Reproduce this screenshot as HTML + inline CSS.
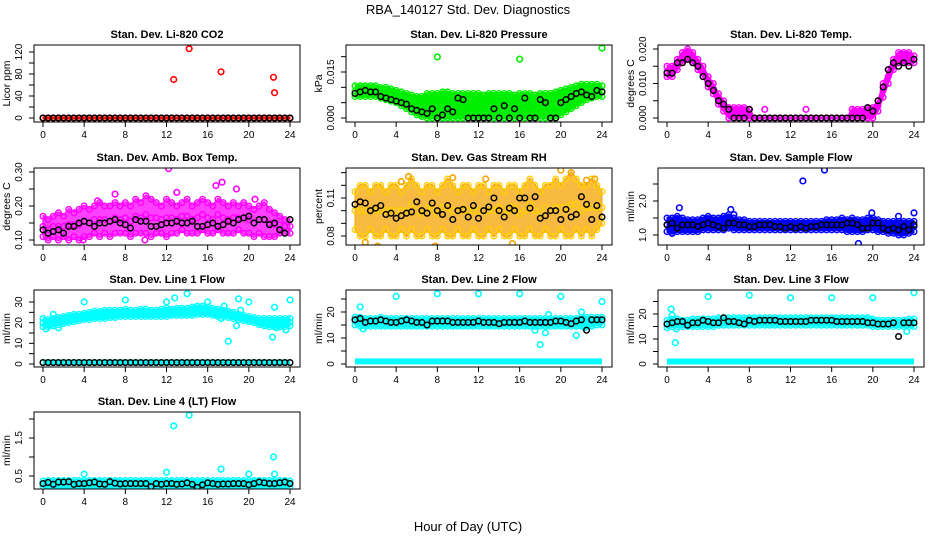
<!DOCTYPE html>
<html><head><meta charset="utf-8"><style>
body{margin:0;background:#fff}
svg{display:block;font-family:"Liberation Sans",Arial,sans-serif}
</style></head><body>
<svg id="c" width="936" height="540" viewBox="0 0 936 540" xmlns="http://www.w3.org/2000/svg">
<rect width="936" height="540" fill="#fff"/>
<text x="468" y="14" text-anchor="middle" font-size="13">RBA_140127  Std. Dev. Diagnostics</text>
<text x="468" y="531" text-anchor="middle" font-size="13">Hour of Day (UTC)</text>
</svg>
<script>
const xTicks=[0,4,8,12,16,20,24];
// CO2
const co2Lo=[0,0,0,0,0,0,0,0,0,0, 0,0,0,0,0,0,0,0,0,0, 0,0,0,0,0,0,0,0,0,0, 0,0,0,0,0,0,0,0,0,0, 0,0,0,0,0,0,0,0,0];
const co2Hi=[0,0,0,0,0,0,0,0,0,0, 0,0,0,0,0,0,0,0,0,0, 0,0,0,0,0,0,0,0,0,0, 0,0,0,0,0,0,0,0,0,0, 0,0,0,0,0,0,0,0,0];
const co2Black=[0,0,0,0,0,0,0,0,0,0, 0,0,0,0,0,0,0,0,0,0, 0,0,0,0,0,0,0,0,0,0, 0,0,0,0,0,0,0,0,0,0, 0,0,0,0,0,0,0,0,0];
const co2OutX=[12.7,14.2,17.3,22.4,22.5];
const co2OutY=[70,126,84,74,46];
// Pressure (x0.001 kPa)
const presHi=[10.5,10.5,10.5,10.5,10.5,10,10,9.5,9,8.5, 8,7.5,7,7,8,8,8,8.5,8.5,8, 8,8,8,8,8,7.5,8,8,8,8, 8,7.5,8,8,8,7.5,8,8,8,8.5, 9,9.5,10,10.5,11,11,11,11,10.5];
const presLo=[7,7,7,7,7,6.5,6,5.5,5,4, 3,2,1,0.5,0,0,0,0,0,0, 0,0,0,0,0,0,0,0,0,0, 0,0,0,0,0,0,0,0,0,0, 1,2,3,4,5,6,6.5,7,7];
const presBlack=[8,8.5,9,8.5,8.5,7,6.5,6,5.5,5, 4.5,3,2.5,2,1.5,3,0,1,3,2, 6.5,6,0,0,0,0,0,3,0,4, 0,3,0,6.5,0,0,6,5,0,0, 5,6,7,8,8.5,7.5,7,9,8.5];
const presOutX=[8,16,24];
const presOutY=[19.9,19.2,22.8];
// Temp
const tempHi=[.015,.015,.017,.019,.02,.019,.017,.015,.012,.010, .007,.005,.003,.003,.003,.003,.0025,0,0,0, 0,0,0,0,0,0,0,0,0,0, 0,0,0,0,0,0,.0025,.0025,.0025,.003, .003,.005,.010,.014,.017,.019,.019,.019,.018];
const tempLo=[.012,.012,.014,.016,.017,.016,.014,.012,.009,.007, .004,.002,0,0,0,0,0,0,0,0, 0,0,0,0,0,0,0,0,0,0, 0,0,0,0,0,0,0,0,0,0, 0,.002,.006,.010,.014,.016,.016,.016,.016];
const tempBlack=[.013,.013,.016,.016,.017,.016,.015,.012,.010,.008, .005,.004,.0025,0,0,0,.0025,0,0,0, 0,0,0,0,0,0,0,0,0,0, 0,0,0,0,0,0,0,0,0,.003, .002,.005,.009,.014,.016,.015,.016,.015,.017];
const tempOutX=[8,9.5,13.5,18];
const tempOutY=[.0025,.0025,.0025,.0025];
// Amb box temp
const ambHi=[.17,.16,.17,.18,.17,.19,.18,.19,.2,.19, .2,.21,.2,.2,.21,.2,.21,.2,.22,.21, .23,.22,.21,.2,.22,.21,.2,.21,.22,.2, .21,.22,.21,.2,.22,.21,.2,.21,.2,.21, .2,.19,.2,.21,.19,.18,.17,.16,.16];
const ambLo=[.11,.1,.11,.1,.11,.1,.11,.1,.11,.11, .12,.11,.12,.11,.12,.12,.12,.11,.12,.12, .12,.11,.12,.12,.11,.12,.12,.13,.12,.12, .12,.13,.12,.12,.13,.12,.12,.12,.13,.12, .12,.11,.12,.11,.11,.11,.12,.12,.12];
const ambBlack=[.13,.12,.125,.13,.12,.14,.14,.15,.155,.15, .14,.15,.15,.155,.16,.15,.145,.135,.16,.155, .155,.14,.14,.145,.15,.15,.155,.15,.15,.155, .14,.14,.145,.15,.14,.145,.155,.15,.16,.165, .17,.15,.16,.16,.145,.15,.13,.12,.16];
const ambOutX=[12.2,16.8,17.4,18.8,13,7,5.3,3.9,9.9,20.6];
const ambOutY=[.31,.26,.27,.25,.24,.235,.215,.1,.1,.22];
// Gas stream RH
const rhHi=[.115,.12,.12,.115,.12,.12,.115,.12,.12,.115, .12,.125,.12,.115,.12,.12,.115,.12,.125,.12, .115,.12,.12,.115,.12,.12,.115,.12,.12,.115, .12,.12,.115,.12,.125,.12,.115,.12,.12,.125, .12,.125,.13,.125,.12,.12,.125,.12,.115];
const rhLo=[.085,.08,.08,.085,.08,.08,.085,.08,.08,.085, .08,.085,.08,.08,.085,.08,.08,.085,.08,.08, .085,.08,.08,.085,.08,.08,.085,.08,.085,.08, .08,.085,.08,.08,.085,.08,.08,.085,.08,.08, .085,.08,.08,.085,.08,.085,.08,.085,.09];
const rhBlack=[.105,.107,.106,.1,.102,.104,.097,.098,.094,.096, .098,.099,.107,.1,.098,.106,.1,.097,.104,.093, .1,.101,.095,.104,.094,.1,.103,.11,.1,.095, .102,.1,.11,.11,.102,.111,.094,.096,.1,.1, .093,.101,.095,.097,.111,.105,.093,.104,.095];
const rhOutX=[1,2.2,4.5,5.2,7.8,9.5,12.7,15.3,20,21,22.5,23.3];
const rhOutY=[.075,.072,.123,.127,.072,.126,.125,.074,.132,.13,.124,.125];
// Sample flow
const sfHi=[1.5,1.5,1.55,1.5,1.45,1.45,1.45,1.5,1.55,1.5, 1.5,1.55,1.6,1.5,1.45,1.45,1.4,1.4,1.4,1.4, 1.4,1.4,1.4,1.4,1.4,1.4,1.4,1.4,1.4,1.4, 1.4,1.45,1.45,1.45,1.5,1.45,1.5,1.45,1.45,1.5, 1.5,1.45,1.4,1.4,1.4,1.4,1.4,1.4,1.4];
const sfLo=[1.1,1.05,1.1,1.1,1.1,1.1,1.1,1.15,1.15,1.15, 1.15,1.15,1.2,1.15,1.15,1.15,1.15,1.15,1.15,1.15, 1.15,1.15,1.15,1.15,1.15,1.15,1.15,1.15,1.15,1.15, 1.15,1.15,1.15,1.15,1.15,1.1,1.1,1.1,1.1,1.15, 1.15,1.1,1.1,1.05,1.05,1.0,1.0,1.05,1.1];
const sfBlack=[1.3,1.35,1.2,1.3,1.3,1.3,1.25,1.3,1.35,1.3, 1.25,1.2,1.35,1.35,1.3,1.3,1.25,1.25,1.3,1.3, 1.3,1.25,1.25,1.2,1.25,1.2,1.25,1.2,1.25,1.25, 1.3,1.3,1.3,1.3,1.3,1.35,1.35,1.3,1.2,1.2, 1.35,1.35,1.2,1.15,1.2,1.15,1.25,1.15,1.3];
const sfOutX=[1.2,6.2,6.5,13.2,15.3,18.6,19.9,22.5,24,0.5];
const sfOutY=[1.8,1.75,1.6,2.59,2.91,0.75,1.65,1.55,1.65,1.05];
// Line 1
const l1Hi=[22,21.5,22,22.5,23,23.5,24,24,24.5,25, 25.5,25.5,26,26,26,26,26.5,26,26,26.5, 26.5,26,26,26.5,27,26.5,27,27,27,27.5, 28,28,27.5,27,26.5,26,25.5,25,24,23.5, 23,22.5,22,22,22,22,22,22,22];
const l1Lo=[18,18,18.5,19,19.5,20,20.5,21,21.5,21.5, 22,22,22,22.5,22.5,23,23,23,23,23, 23,23,23,23,23,23.5,23.5,23.5,23.5,23.5, 24,24,24,23.5,23,23,22.5,22,21.5,21, 20.5,20,19,18.5,18,18,18,18,18.5];
const l1Black=[0.7,0.7,0.7,0.7,0.7,0.7,0.7,0.7,0.7,0.7, 0.7,0.7,0.7,0.7,0.7,0.7,0.7,0.7,0.7,0.7, 0.7,0.7,0.7,0.7,0.7,0.7,0.7,0.7,0.7,0.7, 0.7,0.7,0.7,0.7,0.7,0.7,0.7,0.7,0.7,0.7, 0.7,0.7,0.7,0.7,0.7,0.7,0.7,0.7,0.7];
const l1OutX=[0.3,1,1.5,4,8,12,12.8,14,16,17.3,17.6,18,18.8,19,19.2,20,22.3,22.5,22.7,23.6,24];
const l1OutY=[17,24,17.5,30,31,30,32,34,30,22,28,11,18.5,31.5,26,30,13,27.5,17.5,16.5,31];
// Line 2
const l2Hi=[18,18,17.5,17.5,17.5,18,17.5,17.5,17.5,17.5, 17.5,17.5,17.5,17.5,17.5,17.5,17.5,17.5,17.5,17.5, 17.5,17.5,17.5,17.5,17.5,17.5,17.5,17.5,17.5,17.5, 17.5,17.5,17.5,17.5,17.5,17.5,17.5,17.5,17.5,17.5, 17.5,17.5,17.5,17.5,18,18,18,18,18];
const l2Lo=[15,14.5,14.5,14.5,14.5,14.5,14.5,14.5,14.5,14.5, 14.5,14.5,14.5,14.5,14.5,14.5,14.5,14.5,14.5,14.5, 14.5,14.5,14.5,14.5,14.5,14.5,14.5,14.5,14.5,14.5, 14.5,14.5,14.5,14.5,14.5,14.5,14.5,14.5,14.5,14.5, 14.5,14.5,14.5,14.5,14.5,14.5,14.5,15,15];
const l2Base=[1,1,1,1,1,1,1,1,1,1, 1,1,1,1,1,1,1,1,1,1, 1,1,1,1,1,1,1,1,1,1, 1,1,1,1,1,1,1,1,1,1, 1,1,1,1,1,1,1,1,1];
const l2Black=[17,17.5,16,16.5,16.5,17,16.5,16,16,16.5, 17,16.5,16,16,15,16.5,16.5,16.5,16.5,16, 16,16,16,16,16.5,16,16,16,15.5,16, 16,16,16,16.5,16,16,16,16,16,16.5, 16.5,16,15.5,16.5,17,13,17,17,17];
const l2OutX=[0.5,0.8,4,8,12,16,17.5,18,18.5,18.8,20,21.5,22,22.3,24];
const l2OutY=[22,13.5,26,27,27,27,13,7.5,12,19,26,11,20,14,24];
// Line 3
const l3Hi=[17.5,18,18,17.5,17.5,18,18,18,18,18, 18.5,18.5,18.5,18.5,18.5,18.5,18.5,18.5,18.5,18.5, 18.5,18.5,18.5,18.5,18.5,18.5,18.5,18.5,18.5,18.5, 18.5,18.5,18.5,18.5,18.5,18.5,18.5,18.5,18.5,18.5, 18,17.5,17.5,17.5,17.5,17.5,17.5,18,18];
const l3Lo=[14.5,15,15,15,15,15,15,15,15,15, 15.5,15.5,15.5,15.5,15.5,15.5,15.5,15.5,15.5,15.5, 15.5,15.5,15.5,15.5,15.5,15.5,15.5,15.5,15.5,15.5, 15.5,15.5,15.5,15.5,15.5,15.5,15.5,15.5,15.5,15.5, 15,15,15,15,15,15,15,15,15];
const l3Base=[1,1,1,1,1,1,1,1,1,1, 1,1,1,1,1,1,1,1,1,1, 1,1,1,1,1,1,1,1,1,1, 1,1,1,1,1,1,1,1,1,1, 1,1,1,1,1,1,1,1,1];
const l3Black=[16,16.5,17,17,15.5,16.5,16.5,17.5,17,16.5, 16.5,18.5,17,17,16.5,16,17.5,17,17.5,17.5, 17.5,17.5,17,17,17,17,17,17,17.5,17.5, 17.5,17.5,17.5,17,17,17,17,17,17,16.5, 16.5,16,16,16,16.5,11,16.5,16.5,16.5];
const l3OutX=[0.4,0.5,0.8,0.9,4,8,12,16,20,23.3,24];
const l3OutY=[22,19.5,8.5,14,27,27.5,26.5,26.5,26.5,13,28.5];
// Line 4
const l4Hi=[0.37,0.38,0.38,0.38,0.38,0.38,0.38,0.38,0.38,0.38, 0.38,0.38,0.38,0.38,0.38,0.38,0.38,0.38,0.38,0.38, 0.38,0.38,0.38,0.38,0.38,0.38,0.38,0.38,0.38,0.38, 0.38,0.38,0.38,0.38,0.38,0.38,0.38,0.38,0.38,0.38, 0.38,0.38,0.38,0.38,0.38,0.38,0.38,0.38,0.37];
const l4Lo=[0.22,0.21,0.21,0.21,0.21,0.21,0.21,0.21,0.21,0.21, 0.21,0.21,0.21,0.21,0.21,0.21,0.21,0.21,0.21,0.21, 0.21,0.21,0.21,0.21,0.21,0.21,0.21,0.21,0.21,0.21, 0.21,0.21,0.21,0.21,0.21,0.21,0.21,0.21,0.21,0.21, 0.21,0.21,0.21,0.21,0.21,0.21,0.21,0.21,0.22];
const l4Black=[0.3,0.33,0.28,0.34,0.34,0.35,0.28,0.3,0.3,0.32, 0.34,0.29,0.28,0.35,0.31,0.29,0.3,0.3,0.3,0.3, 0.3,0.22,0.3,0.28,0.3,0.3,0.28,0.29,0.32,0.28, 0.2,0.27,0.32,0.3,0.28,0.29,0.29,0.3,0.3,0.3, 0.27,0.3,0.34,0.32,0.3,0.3,0.32,0.34,0.3];
const l4OutX=[4,12,12.7,14.2,17.3,20,22.4,22.5];
const l4OutY=[0.55,0.6,1.82,2.1,0.68,0.55,1.0,0.55];

const NS='http://www.w3.org/2000/svg';
const svg=document.getElementById('c');
const cols=[{bx0:34,bx1:300,x0:43,x24:290},{bx0:346,bx1:612,x0:355,x24:602},{bx0:658,bx1:924,x0:667,x24:914}];
const rows=[45,168,290,412];
function mk(tag,attrs,parent){const e=document.createElementNS(NS,tag);for(const k in attrs)e.setAttribute(k,attrs[k]);(parent||svg).appendChild(e);return e;}

const panels=[
 {slug:'co2',title:'Stan. Dev. Li-820 CO2',ylab:'Licor ppm',r:0,c:0,color:'#ff0000',v0:0,p0:118,v1:120,p1:52,ticks:[0,20,40,60,80,100,120],labels:[[0,'0'],[40,'40'],[80,'80'],[120,'120']],lo:co2Lo,hi:co2Hi,black:co2Black,ox:co2OutX,oy:co2OutY},
 {slug:'pressure',title:'Stan. Dev. Li-820 Pressure',ylab:'kPa',r:0,c:1,color:'#00ee00',v0:0,p0:118,v1:15,p1:72,ticks:[0,5,10,15,20],labels:[[0,'0.000'],[15,'0.015']],lo:presLo,hi:presHi,black:presBlack,ox:presOutX,oy:presOutY},
 {slug:'li820-temp',title:'Stan. Dev. Li-820 Temp.',ylab:'degrees C',r:0,c:2,color:'#ff00ff',v0:0,p0:118,v1:.02,p1:49,ticks:[0,.005,.01,.015,.02],labels:[[0,'0.000'],[.01,'0.010'],[.02,'0.020']],lo:tempLo,hi:tempHi,black:tempBlack,ox:tempOutX,oy:tempOutY},
 {slug:'amb-box-temp',title:'Stan. Dev. Amb. Box Temp.',ylab:'degrees C',r:1,c:0,color:'#ff00ff',v0:.1,p0:240,v1:.3,p1:172,ticks:[.1,.15,.2,.25,.3],labels:[[.1,'0.10'],[.2,'0.20'],[.3,'0.30']],lo:ambLo,hi:ambHi,black:ambBlack,ox:ambOutX,oy:ambOutY,speckle:true},
 {slug:'gas-stream-rh',title:'Stan. Dev. Gas Stream RH',ylab:'percent',r:1,c:1,color:'#f5a300',edge:'#ffd000',v0:.08,p0:236,v1:.11,p1:198,ticks:[.08,.09,.1,.11,.12,.13],labels:[[.08,'0.08'],[.11,'0.11']],lo:rhLo,hi:rhHi,black:rhBlack,ox:rhOutX,oy:rhOutY,speckle:true},
 {slug:'sample-flow',title:'Stan. Dev. Sample Flow',ylab:'ml/min',r:1,c:2,color:'#0000ff',v0:1,p0:235,v1:2,p1:201,ticks:[1,1.5,2,2.5],labels:[[1,'1.0'],[2,'2.0']],lo:sfLo,hi:sfHi,black:sfBlack,ox:sfOutX,oy:sfOutY},
 {slug:'line1-flow',title:'Stan. Dev. Line 1 Flow',ylab:'ml/min',r:2,c:0,color:'#00ffff',v0:0,p0:364,v1:30,p1:302,ticks:[0,5,10,15,20,25,30],labels:[[0,'0'],[10,'10'],[20,'20'],[30,'30']],lo:l1Lo,hi:l1Hi,black:l1Black,ox:l1OutX,oy:l1OutY,base:l1Black},
 {slug:'line2-flow',title:'Stan. Dev. Line 2 Flow',ylab:'ml/min',r:2,c:1,color:'#00ffff',v0:0,p0:364,v1:20,p1:312,ticks:[0,5,10,15,20,25],labels:[[0,'0'],[10,'10'],[20,'20']],lo:l2Lo,hi:l2Hi,black:l2Black,ox:l2OutX,oy:l2OutY,base:l2Base},
 {slug:'line3-flow',title:'Stan. Dev. Line 3 Flow',ylab:'ml/min',r:2,c:2,color:'#00ffff',v0:0,p0:364,v1:20,p1:314,ticks:[0,5,10,15,20,25],labels:[[0,'0'],[10,'10'],[20,'20']],lo:l3Lo,hi:l3Hi,black:l3Black,ox:l3OutX,oy:l3OutY,base:l3Base},
 {slug:'line4-flow',title:'Stan. Dev. Line 4 (LT) Flow',ylab:'ml/min',r:3,c:0,color:'#00ffff',v0:.5,p0:476,v1:1.5,p1:438,ticks:[.5,1,1.5,2],labels:[[.5,'0.5'],[1.5,'1.5']],lo:l4Lo,hi:l4Hi,black:l4Black,ox:l4OutX,oy:l4OutY}
];

panels.forEach(p=>{
 const col=cols[p.c], by0=rows[p.r], by1=by0+77;
 const g=mk('g',{});
 
 
 const X=h=>col.x0+(col.x24-col.x0)*h/24;
 const Y=v=>p.p0+(v-p.v0)*(p.p1-p.p0)/(p.v1-p.v0);
 const clipId='clip-'+p.slug;
 const cp=mk('clipPath',{id:clipId},g);
 mk('rect',{x:col.bx0,y:by0,width:col.bx1-col.bx0,height:77},cp);
 const t=mk('text',{x:(col.bx0+col.bx1)/2,y:by0-7,'text-anchor':'middle','font-size':'11','font-weight':'bold'},g);
 t.textContent=p.title;
 
 
 const yl=mk('text',{transform:`translate(${col.bx0-24},${(by0+by1)/2}) rotate(-90)`,'text-anchor':'middle','font-size':'10.5'},g);
 yl.textContent=p.ylab;
 
 
 const n=p.hi.length, hrs=[];
 for(let i=0;i<n;i++)hrs.push(i*24/(n-1));
 const plot=mk('g',{'clip-path':`url(#${clipId})`},g);
 
 
 let pts=[];
 for(let i=0;i<n;i++)pts.push(X(hrs[i])+','+(Y(p.hi[i])-1));
 for(let i=n-1;i>=0;i--)pts.push(X(hrs[i])+','+(Y(p.lo[i])+1));
 const band=mk('polygon',{points:pts.join(' '),fill:p.color,'fill-opacity':p.speckle?0.75:1,stroke:p.color,'stroke-width':'1','stroke-linejoin':'round'},plot);
 
 
 for(let i=0;i<n;i++){
  [p.hi[i],p.lo[i],(p.hi[i]+p.lo[i])/2].forEach(v=>{
   const ci=mk('circle',{cx:X(hrs[i]),cy:Y(v),r:2.8,fill:'none',stroke:p.edge||p.color,'stroke-width':1.4},plot);
   
   
  });
 }
 if(p.base){
  const bl=mk('line',{x1:X(0),x2:X(24),y1:Y(p.base[0]),y2:Y(p.base[0]),stroke:p.color,'stroke-width':6},plot);
  
  
 }
 for(let i=0;i<p.ox.length;i++){
  const ci=mk('circle',{cx:X(p.ox[i]),cy:Y(p.oy[i]),r:2.8,fill:'none',stroke:p.color,'stroke-width':1.6},plot);
  
  
 }
 for(let i=0;i<p.black.length;i++){
  const ci=mk('circle',{cx:X(hrs[i]),cy:Y(p.black[i]),r:2.8,fill:'none',stroke:'#000','stroke-width':1.5},plot);
  
  
 }
 const box=mk('rect',{x:col.bx0,y:by0,width:col.bx1-col.bx0,height:77,fill:'none',stroke:'#000','stroke-width':1},g);
 
 
 xTicks.forEach(h=>{
  mk('line',{x1:X(h),x2:X(h),y1:by1,y2:by1+5,stroke:'#000'},g);
  const tl=mk('text',{x:X(h),y:by1+16,'text-anchor':'middle','font-size':'10'},g);
  tl.textContent=h;
  
  
 });
 p.ticks.forEach(v=>{
  const yy=Y(v); if(yy<by0-1||yy>by1+1)return;
  mk('line',{x1:col.bx0-5,x2:col.bx0,y1:yy,y2:yy,stroke:'#000'},g);
 });
 p.labels.forEach(([v,s])=>{
  const tl=mk('text',{transform:`translate(${col.bx0-12},${Y(v)}) rotate(-90)`,'text-anchor':'middle','font-size':'10'},g);
  tl.textContent=s;
  
  
 });
});
</script>
</body></html>
